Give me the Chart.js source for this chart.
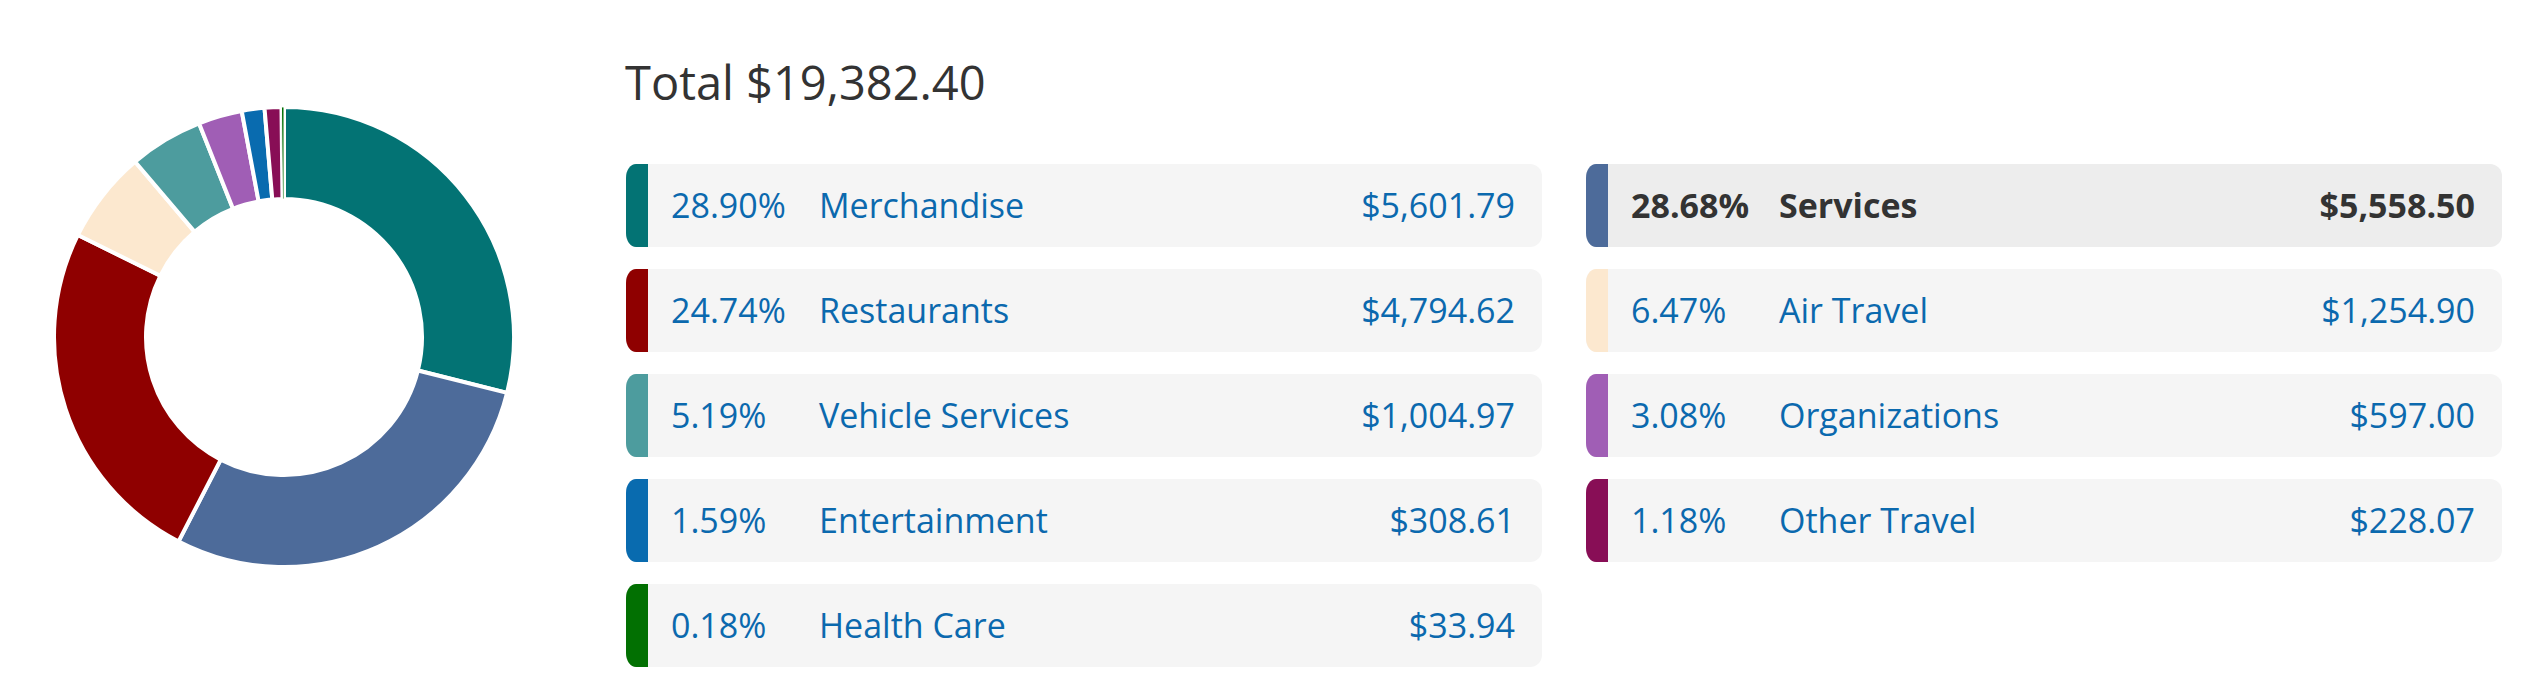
<!DOCTYPE html>
<html>
<head>
<meta charset="utf-8">
<script src="https://cdn.jsdelivr.net/npm/chart.js@4/dist/chart.umd.min.js"></script>
<style>
    html, body {
        margin: 0;
        padding: 0;
        background: #fff;
        width: 2522px;
        height: 698px;
        overflow: hidden;
        font-family: "Open Sans", sans-serif;
    }
    #donutWrap {
        position: absolute;
        left: 52px;
        top: 105px;
        width: 464px;
        height: 464px;
    }
    #total {
        position: absolute;
        left: 625px;
        top: 50px;
        font-size: 47px;
        line-height: 64px;
        color: #333;
        white-space: nowrap;
    }
    #legend {
        position: absolute;
        left: 626px;
        top: 164px;
        display: grid;
        grid-template-columns: 916px 916px;
        column-gap: 44px;
        row-gap: 22px;
    }
    .row {
        position: relative;
        height: 83px;
        background: #f5f5f5;
        border-radius: 12px;
        color: #0b69ae;
        font-size: 34px;
        line-height: 83px;
        white-space: nowrap;
    }
    .row.active {
        background: #ededed;
        color: #333;
        font-weight: 700;
    }
    .tab {
        position: absolute;
        left: 0;
        top: 0;
        width: 22px;
        height: 83px;
        border-radius: 10px 0 0 10px / 14px 0 0 14px;
    }
    .pct { position: absolute; left: 45px; }
    .name { position: absolute; left: 193px; }
    .amt { position: absolute; right: 27px; }
</style>
</head>
<body>
<div id="donutWrap"><canvas id="spendChart"></canvas></div>
<div id="total"></div>
<div id="legend"></div>

<script>
    const categories = ['Merchandise', 'Services', 'Restaurants', 'Air Travel', 'Vehicle Services',
        'Organizations', 'Entertainment', 'Other Travel', 'Health Care'];
    const amounts = [5601.79, 5558.50, 4794.62, 1254.90, 1004.97, 597.00, 308.61, 228.07, 33.94];
    const shares = [28.90, 28.68, 24.74, 6.47, 5.19, 3.08, 1.59, 1.18, 0.18];
    const colors = ['#037374', '#4d6b9a', '#8f0000', '#fce8cf', '#4d9c9e',
        '#a05eb5', '#096baf', '#880e56', '#027002'];
    const activeCategory = 'Services';

    const money = v => '$' + v.toLocaleString('en-US', { minimumFractionDigits: 2, maximumFractionDigits: 2 });
    const total = amounts.reduce((a, b) => a + b, 0);

    document.getElementById('total').textContent = 'Total ' + money(total);

    // lista de categorias (2 columnas)
    const legend = document.getElementById('legend');
    categories.forEach((cat, i) => {
        const row = document.createElement('div');
        row.className = 'row' + (cat === activeCategory ? ' active' : '');
        row.innerHTML =
            '<div class="tab" style="background:' + colors[i] + '"></div>' +
            '<span class="pct">' + shares[i].toFixed(2) + '%</span>' +
            '<span class="name">' + cat + '</span>' +
            '<span class="amt">' + money(amounts[i]) + '</span>';
        legend.appendChild(row);
    });

    // dona: borde fino en la ultima porcion para que siga viendose
    new Chart(document.getElementById('spendChart').getContext('2d'), {
        type: 'doughnut',
        data: {
            labels: categories,
            datasets: [{
                data: amounts,
                backgroundColor: colors,
                borderColor: '#ffffff',
                borderWidth: amounts.map((v, i) => i === amounts.length - 1 ? 1 : 4),
                hoverOffset: 0
            }]
        },
        options: {
            responsive: true,
            maintainAspectRatio: false,
            animation: false,
            cutout: '60%',
            layout: { padding: 0 },
            plugins: {
                legend: { display: false },
                tooltip: { enabled: false }
            }
        }
    });
</script>
</body>
</html>
